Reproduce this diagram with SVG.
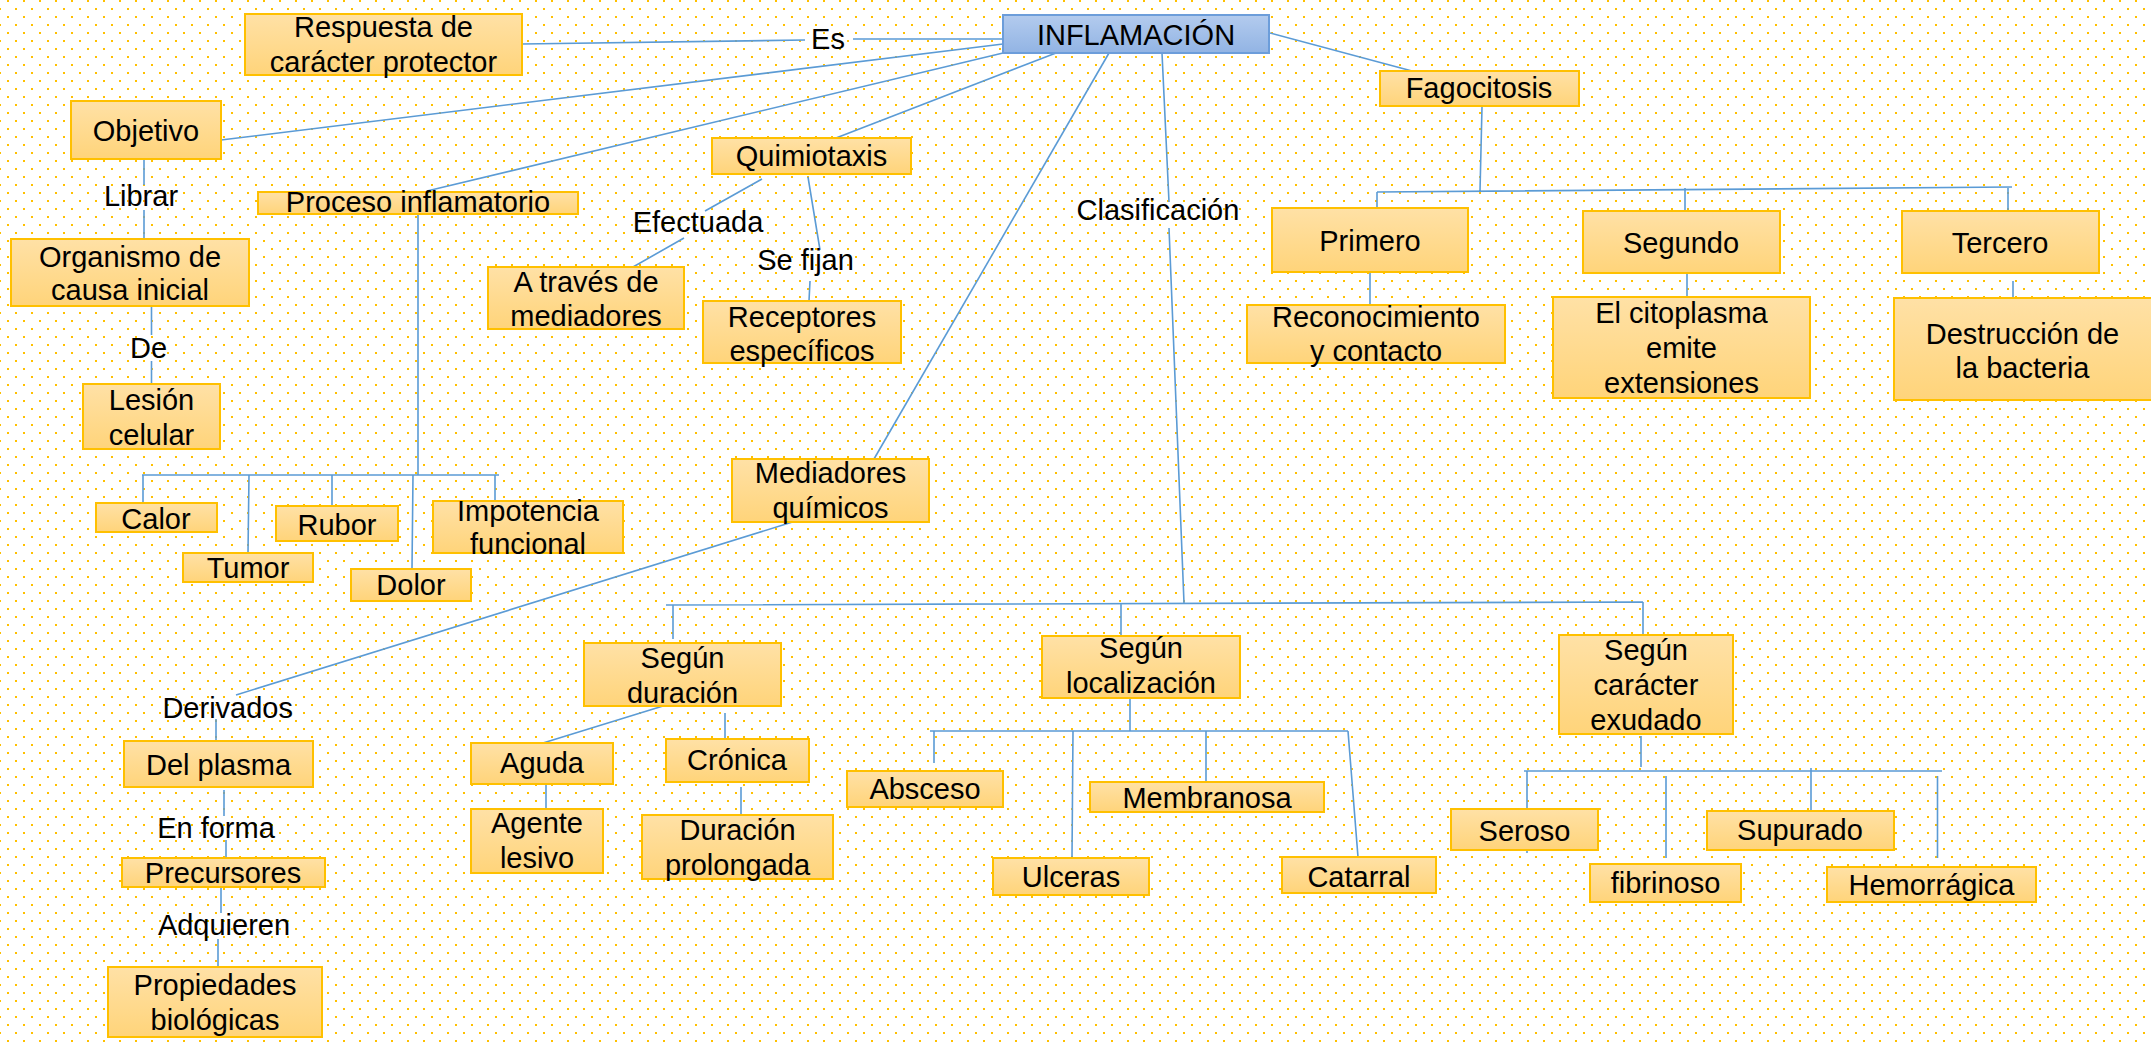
<svg xmlns="http://www.w3.org/2000/svg" width="2151" height="1044" viewBox="0 0 2151 1044">
<defs>
<pattern id="dots" x="0" y="0" width="16" height="16" patternUnits="userSpaceOnUse">
<rect x="7" y="0" width="2" height="2" fill="#FFC000"/>
<rect x="0" y="8" width="1" height="2" fill="#FFC000"/>
<rect x="15" y="8" width="1" height="2" fill="#FFC000"/>
</pattern>
<linearGradient id="og" x1="0" y1="0" x2="0" y2="1">
<stop offset="0" stop-color="#FFE1A6"/>
<stop offset="1" stop-color="#FFD47A"/>
</linearGradient>
<linearGradient id="bg" x1="0" y1="0" x2="0" y2="1">
<stop offset="0" stop-color="#B3CBEE"/>
<stop offset="1" stop-color="#92B4E4"/>
</linearGradient>
</defs>
<style>
.box{fill:url(#og);stroke:#FFC000;stroke-width:2}
.blue{fill:url(#bg);stroke:#6C9DDA;stroke-width:2}
.t{font-family:"Liberation Sans",Arial,sans-serif;font-size:29px;fill:#000;text-anchor:middle}
.c{stroke:#5B9BD5;stroke-width:1.6;fill:none}
</style>
<rect width="2151" height="1044" fill="#FFFFFF"/>
<rect width="2151" height="1044" fill="url(#dots)"/>

<g id="connectors" class="c">
<path d="M522,44 L805,40 M853,39 L1003,39"/>
<path d="M221,140 L1003,44"/>
<path d="M427,191 L1003,53"/>
<path d="M836,138 L1056,53"/>
<path d="M1109,53 L874,459"/>
<path d="M1162,53 L1169,202 M1169,228 L1184,603"/>
<path d="M666,605 L1643,602 M673,605 L673,639 M1121,604 L1121,636 M1643,602 L1643,635"/>
<path d="M1270,33 L1412,71"/>
<path d="M1482,107 L1480,191 M1377,192 L2012,187 M1377,192 L1377,208 M1685,188 L1685,211 M2008,187 L2008,211"/>
<path d="M1370,273 L1370,305 M1687,274 L1687,297 M2013,281 L2013,298"/>
<path d="M144,159 L144,185 M144,210 L144,239"/>
<path d="M151.5,307 L151.5,335 M151.5,361 L151.5,384"/>
<path d="M418,215 L418,475 M142,475 L499,475 M143,475 L143,503 M249,475 L248,553 M332,475 L332,506 M413,475 L412,569 M495,475 L495,501"/>
<path d="M762,179 L705,211 M684,238 L633,267"/>
<path d="M808,177 L820,250 M810,281 L809,301"/>
<path d="M799,520 L236,695"/>
<path d="M216,719 L216,741"/>
<path d="M224,790 L224,816 M226,840 L226,858"/>
<path d="M221,887 L221,913 M218,939 L218,967"/>
<path d="M663,706 L543,743 M546,785 L546,809 M725,713 L725,739 M741,787 L741,815"/>
<path d="M1130,699 L1130,731 M930,731 L1348,731 M934,731 L934,763 M1073,731 L1072,858 M1206,731 L1206,782 M1348,731 L1358,857"/>
<path d="M1641,736 L1641,767 M1524,771 L1942,771 M1527,771 L1527,853 M1666,776 L1666,858 M1811,768 L1811,811 M1937.5,776 L1937.5,858"/>
</g>

<g id="labels" class="t">
<text x="828" y="49">Es</text>
<text x="141" y="206">Librar</text>
<text x="148.5" y="358">De</text>
<text x="698" y="232">Efectuada</text>
<text x="805.5" y="270">Se fijan</text>
<text x="1158" y="220">Clasificación</text>
<text x="227.7" y="718">Derivados</text>
<text x="216" y="838">En forma</text>
<text x="224" y="935">Adquieren</text>
</g>

<g id="n-inflamacion"><rect class="blue" x="1003" y="15" width="266" height="38"/><text class="t" x="1136" y="45">INFLAMACIÓN</text></g>
<g id="n-respuesta"><rect class="box" x="245" y="14" width="277" height="61"/><text class="t" x="383.5" y="37">Respuesta de</text><text class="t" x="383.5" y="71.5">carácter protector</text></g>
<g id="n-objetivo"><rect class="box" x="71" y="101" width="150" height="58"/><text class="t" x="146" y="141">Objetivo</text></g>
<g id="n-organismo"><rect class="box" x="11" y="239" width="238" height="67"/><text class="t" x="130" y="267">Organismo de</text><text class="t" x="130" y="300">causa inicial</text></g>
<g id="n-lesion"><rect class="box" x="83" y="384" width="137" height="65"/><text class="t" x="151.5" y="410">Lesión</text><text class="t" x="151.5" y="445">celular</text></g>
<g id="n-proceso"><rect class="box" x="258" y="192" width="320" height="22"/><text class="t" x="418" y="212">Proceso inflamatorio</text></g>
<g id="n-calor"><rect class="box" x="96" y="503" width="121" height="29"/><text class="t" x="156" y="529">Calor</text></g>
<g id="n-tumor"><rect class="box" x="183" y="553" width="130" height="29"/><text class="t" x="248" y="578">Tumor</text></g>
<g id="n-rubor"><rect class="box" x="276" y="506" width="122" height="35"/><text class="t" x="337" y="535">Rubor</text></g>
<g id="n-dolor"><rect class="box" x="351" y="569" width="120" height="32"/><text class="t" x="411" y="595">Dolor</text></g>
<g id="n-impotencia"><rect class="box" x="433" y="501" width="190" height="52"/><text class="t" x="528" y="521">Impotencia</text><text class="t" x="528" y="554">funcional</text></g>
<g id="n-quimiotaxis"><rect class="box" x="712" y="138" width="199" height="36"/><text class="t" x="811.5" y="166">Quimiotaxis</text></g>
<g id="n-atraves"><rect class="box" x="488" y="267" width="196" height="62"/><text class="t" x="586" y="292">A través de</text><text class="t" x="586" y="326">mediadores</text></g>
<g id="n-receptores"><rect class="box" x="703" y="301" width="198" height="62"/><text class="t" x="802" y="327">Receptores</text><text class="t" x="802" y="361">específicos</text></g>
<g id="n-mediadores"><rect class="box" x="732" y="459" width="197" height="63"/><text class="t" x="830.5" y="483">Mediadores</text><text class="t" x="830.5" y="518">químicos</text></g>
<g id="n-fagocitosis"><rect class="box" x="1380" y="71" width="199" height="35"/><text class="t" x="1479" y="98">Fagocitosis</text></g>
<g id="n-primero"><rect class="box" x="1272" y="208" width="196" height="64"/><text class="t" x="1370" y="251">Primero</text></g>
<g id="n-segundo"><rect class="box" x="1583" y="211" width="197" height="62"/><text class="t" x="1681" y="253">Segundo</text></g>
<g id="n-tercero"><rect class="box" x="1902" y="211" width="197" height="62"/><text class="t" x="2000" y="253">Tercero</text></g>
<g id="n-reconocimiento"><rect class="box" x="1247" y="305" width="258" height="58"/><text class="t" x="1376" y="327">Reconocimiento</text><text class="t" x="1376" y="361">y contacto</text></g>
<g id="n-citoplasma"><rect class="box" x="1553" y="297" width="257" height="101"/><text class="t" x="1681.5" y="323">El citoplasma</text><text class="t" x="1681.5" y="358">emite</text><text class="t" x="1681.5" y="393">extensiones</text></g>
<g id="n-destruccion"><rect class="box" x="1894" y="298" width="262" height="102"/><text class="t" x="2022.5" y="344">Destrucción de</text><text class="t" x="2022.5" y="378">la bacteria</text></g>
<g id="n-delplasma"><rect class="box" x="124" y="741" width="189" height="46"/><text class="t" x="218.5" y="775">Del plasma</text></g>
<g id="n-precursores"><rect class="box" x="122" y="858" width="203" height="29"/><text class="t" x="223" y="883">Precursores</text></g>
<g id="n-propiedades"><rect class="box" x="108" y="967" width="214" height="70"/><text class="t" x="215" y="995">Propiedades</text><text class="t" x="215" y="1030">biológicas</text></g>
<g id="n-duracion"><rect class="box" x="584" y="643" width="197" height="63"/><text class="t" x="682.5" y="668">Según</text><text class="t" x="682.5" y="703">duración</text></g>
<g id="n-localizacion"><rect class="box" x="1042" y="636" width="198" height="62"/><text class="t" x="1141" y="658">Según</text><text class="t" x="1141" y="693">localización</text></g>
<g id="n-caracter"><rect class="box" x="1559" y="635" width="174" height="99"/><text class="t" x="1646" y="660">Según</text><text class="t" x="1646" y="695">carácter</text><text class="t" x="1646" y="730">exudado</text></g>
<g id="n-aguda"><rect class="box" x="471" y="743" width="142" height="41"/><text class="t" x="542" y="773">Aguda</text></g>
<g id="n-agente"><rect class="box" x="471" y="809" width="132" height="64"/><text class="t" x="537" y="833">Agente</text><text class="t" x="537" y="868">lesivo</text></g>
<g id="n-cronica"><rect class="box" x="666" y="739" width="143" height="43"/><text class="t" x="737" y="770">Crónica</text></g>
<g id="n-prolongada"><rect class="box" x="642" y="815" width="191" height="64"/><text class="t" x="737.5" y="840">Duración</text><text class="t" x="737.5" y="875">prolongada</text></g>
<g id="n-absceso"><rect class="box" x="847" y="771" width="156" height="36"/><text class="t" x="925" y="799">Absceso</text></g>
<g id="n-ulceras"><rect class="box" x="993" y="858" width="156" height="37"/><text class="t" x="1071" y="887">Ulceras</text></g>
<g id="n-membranosa"><rect class="box" x="1090" y="782" width="234" height="30"/><text class="t" x="1207" y="808">Membranosa</text></g>
<g id="n-catarral"><rect class="box" x="1282" y="857" width="154" height="36"/><text class="t" x="1359" y="887">Catarral</text></g>
<g id="n-seroso"><rect class="box" x="1451" y="809" width="147" height="41"/><text class="t" x="1524.5" y="841">Seroso</text></g>
<g id="n-fibrinoso"><rect class="box" x="1590" y="864" width="151" height="38"/><text class="t" x="1665.5" y="893">fibrinoso</text></g>
<g id="n-supurado"><rect class="box" x="1707" y="811" width="187" height="39"/><text class="t" x="1800" y="840">Supurado</text></g>
<g id="n-hemorragica"><rect class="box" x="1827" y="867" width="209" height="35"/><text class="t" x="1931.5" y="895">Hemorrágica</text></g>
</svg>
